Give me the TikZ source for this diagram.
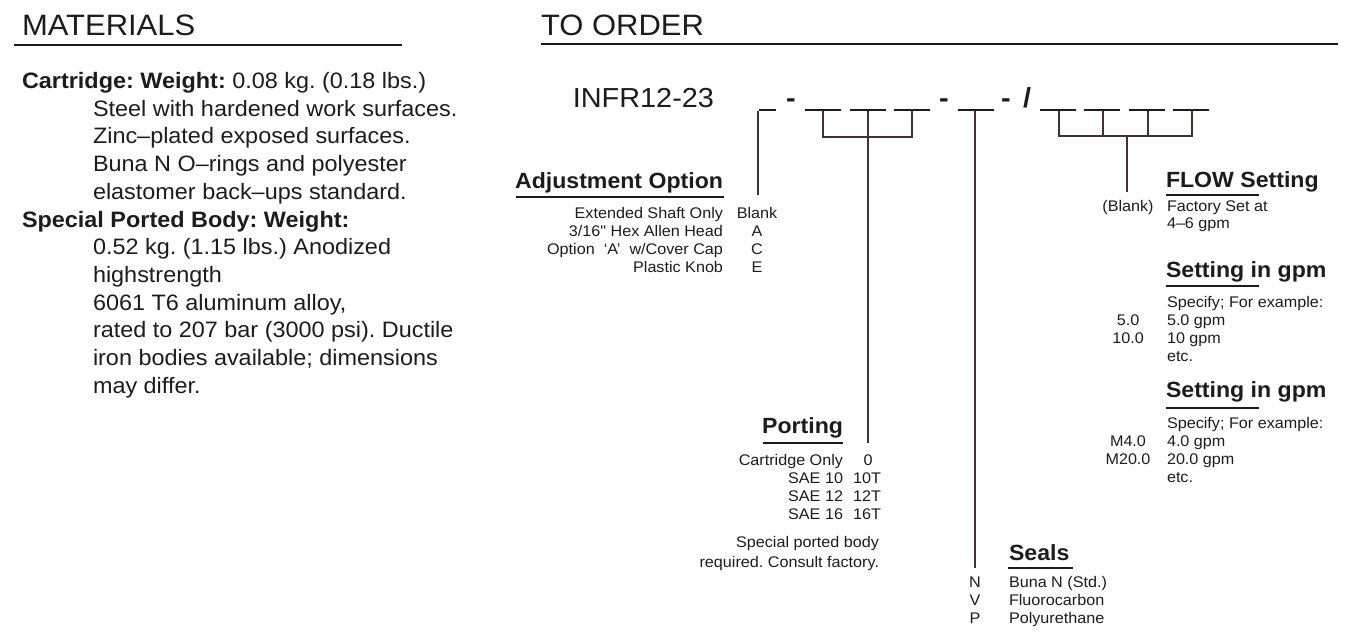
\documentclass[tikz,border=0pt]{standalone}
\usepackage{fontspec}
\setmainfont{Liberation Sans}[FakeStretch=1.05]
\newfontfamily\qfont{Liberation Sans}[FakeStretch=1.05]
\definecolor{ink}{RGB}{30,27,28}
\definecolor{wirec}{RGB}{64,50,48}
\frenchspacing
\begin{document}
\begin{tikzpicture}[x=1pt,y=-1pt,
  every node/.style={inner sep=0pt,outer sep=0pt,text=ink},
  hdr/.style={font=\fontsize{29.5}{30}\selectfont,anchor=base west},
  sub/.style={font=\bfseries\fontsize{22}{24}\selectfont},
  sm/.style={font=\fontsize{15.4}{18}\selectfont},
  mat/.style={font=\fontsize{22.3}{26}\selectfont,anchor=base west},
  code/.style={font=\fontsize{27.5}{28}\selectfont,anchor=base},
  sep/.style={font=\bfseries\fontsize{27.5}{28}\selectfont,anchor=base},
  hrule/.style={draw=ink,line width=1.6pt},
  subrule/.style={draw=ink,line width=2pt},
  blankline/.style={draw=ink,line width=1.5pt},
  wire/.style={draw=wirec,line width=1.2pt}]
\useasboundingbox (0,0) rectangle (1352,640);

% ---------- MATERIALS ----------
\node[hdr] (mathdr) at (22,35) {MATERIALS};
\draw[hrule] (14,45) -- (402,45);
\node[mat] (m0) at (22,88.5) {\textbf{Cartridge: Weight:} 0.08 kg. (0.18 lbs.)};
\node[mat] (m1) at (93,116.2) {Steel with hardened work surfaces.};
\node[mat] (m2) at (93,143.9) {Zinc–plated exposed surfaces.};
\node[mat] (m3) at (93,171.6) {Buna N O–rings and polyester};
\node[mat] (m4) at (93,199.3) {elastomer back–ups standard.};
\node[mat] (m5) at (22,227) {\textbf{Special Ported Body: Weight:}};
\node[mat] (m6) at (93,254.7) {0.52 kg. (1.15 lbs.) Anodized};
\node[mat] (m7) at (93,282.4) {highstrength};
\node[mat] (m8) at (93,310.1) {6061 T6 aluminum alloy,};
\node[mat] (m9) at (93,337.8) {rated to 207 bar (3000 psi). Ductile};
\node[mat] (m10) at (93,365.5) {iron bodies available; dimensions};
\node[mat] (m11) at (93,393.2) {may differ.};

% ---------- TO ORDER ----------
\node[hdr] (ordhdr) at (541,35) {TO ORDER};
\draw[hrule] (541,44) -- (1338,44);

\node[code,anchor=base east] (model) at (714,107) {INFR12-23};
\node[sep] (d1) at (791,107) {-};
\node[sep] (d2) at (944,107) {-};
\node[sep] (d3) at (1006,107) {-};
\node[sep] (sl) at (1027,107) {/};

% blanks
\draw[blankline] (759,110) -- (776,110);
\draw[blankline] (805,110) -- (841,110);
\draw[blankline] (850,110) -- (886,110);
\draw[blankline] (894,110) -- (930,110);
\draw[blankline] (958,110) -- (994,110);
\draw[blankline] (1040,110) -- (1076,110);
\draw[blankline] (1084,110) -- (1120,110);
\draw[blankline] (1129,110) -- (1165,110);
\draw[blankline] (1173,110) -- (1209,110);

% connector coordinates
\coordinate (a0) at (758,111);
\coordinate (aE) at (758,195);
\coordinate (p1) at (823,111);
\coordinate (p2) at (868,111);
\coordinate (p3) at (912,111);
\coordinate (p1b) at (823,137);
\coordinate (p2b) at (868,137);
\coordinate (p3b) at (912,137);
\coordinate (pE) at (868,443);
\coordinate (s0) at (975,111);
\coordinate (sE) at (975,568);
\coordinate (f1) at (1059,111);
\coordinate (f2) at (1103,111);
\coordinate (f3) at (1148,111);
\coordinate (f4) at (1192,111);
\coordinate (f1b) at (1059,136);
\coordinate (f2b) at (1103,136);
\coordinate (f3b) at (1148,136);
\coordinate (f4b) at (1192,136);
\coordinate (fc) at (1127,136);
\coordinate (fE) at (1127,192);

\draw[wire] (a0) -- (aE);
\draw[wire] (p1) -- (p1b) -- (p3b) -- (p3);
\draw[wire] (p2) -- (p2b) -- (pE);
\draw[wire] (s0) -- (sE);
\draw[wire] (f1) -- (f1b) -- (f4b) -- (f4);
\draw[wire] (f2) -- (f2b);
\draw[wire] (f3) -- (f3b);
\draw[wire] (fc) -- (fE);

% ---------- Adjustment Option ----------
\node[sub,anchor=base east] (adjh) at (723,188) {Adjustment Option};
\draw[subrule] (516,197) -- (724,197);
\node[sm,anchor=base east] (adl1) at (723,218) {Extended Shaft Only};
\node[sm,anchor=base east] (adl2) at (723,236) {3/16{\qfont "} Hex Allen Head};
\node[sm,anchor=base east] (adl3) at (723,254) {Option\ \ ‘A’\ \ w/Cover Cap};
\node[sm,anchor=base east] (adl4) at (723,272) {Plastic Knob};
\node[sm,anchor=base] (adc1) at (757,218) {Blank};
\node[sm,anchor=base] (adc2) at (757,236) {A};
\node[sm,anchor=base] (adc3) at (757,254) {C};
\node[sm,anchor=base] (adc4) at (757,272) {E};

% ---------- Porting ----------
\node[sub,anchor=base east] (porth) at (843,433) {Porting};
\draw[subrule] (763,443) -- (843,443);
\node[sm,anchor=base east] (pol1) at (843,465) {Cartridge Only};
\node[sm,anchor=base east] (pol2) at (843,483) {SAE 10};
\node[sm,anchor=base east] (pol3) at (843,501) {SAE 12};
\node[sm,anchor=base east] (pol4) at (843,519) {SAE 16};
\node[sm,anchor=base] (poc1) at (868,465) {0};
\node[sm,anchor=base] (poc2) at (867,483) {10T};
\node[sm,anchor=base] (poc3) at (867,501) {12T};
\node[sm,anchor=base] (poc4) at (867,519) {16T};
\node[sm,anchor=base east] (pon1) at (879,547) {Special ported body};
\node[sm,anchor=base east] (pon2) at (879,567) {required. Consult factory.};

% ---------- Seals ----------
\node[sub,anchor=base west] (sealh) at (1009,560) {Seals};
\draw[subrule] (1008,568) -- (1073,568);
\node[sm,anchor=base] (sc1) at (975,587) {N};
\node[sm,anchor=base] (sc2) at (975,605) {V};
\node[sm,anchor=base] (sc3) at (975,623) {P};
\node[sm,anchor=base west] (sd1) at (1009,587) {Buna N (Std.)};
\node[sm,anchor=base west] (sd2) at (1009,605) {Fluorocarbon};
\node[sm,anchor=base west] (sd3) at (1009,623) {Polyurethane};

% ---------- FLOW Setting ----------
\node[sub,anchor=base west] (flowh) at (1166,187) {FLOW Setting};
\draw[subrule] (1166,195) -- (1259,195);
\node[sm,anchor=base] (fc1) at (1128,211) {(Blank)};
\node[sm,anchor=base west] (fd1) at (1167,211) {Factory Set at};
\node[sm,anchor=base west] (fd2) at (1167,228) {4–6 gpm};

\node[sub,anchor=base west] (set1h) at (1166,277) {Setting in gpm};
\draw[subrule] (1166,286) -- (1259,286);
\node[sm,anchor=base west] (s1a) at (1167,307) {Specify; For example:};
\node[sm,anchor=base] (s1c1) at (1128,325) {5.0};
\node[sm,anchor=base west] (s1b) at (1167,325) {5.0 gpm};
\node[sm,anchor=base] (s1c2) at (1128,343) {10.0};
\node[sm,anchor=base west] (s1c) at (1167,343) {10 gpm};
\node[sm,anchor=base west] (s1d) at (1167,361) {etc.};

\node[sub,anchor=base west] (set2h) at (1166,397) {Setting in gpm};
\draw[subrule] (1166,408) -- (1259,408);
\node[sm,anchor=base west] (s2a) at (1167,428) {Specify; For example:};
\node[sm,anchor=base] (s2c1) at (1128,446) {M4.0};
\node[sm,anchor=base west] (s2b) at (1167,446) {4.0 gpm};
\node[sm,anchor=base] (s2c2) at (1128,464) {M20.0};
\node[sm,anchor=base west] (s2c) at (1167,464) {20.0 gpm};
\node[sm,anchor=base west] (s2d) at (1167,482) {etc.};
\end{tikzpicture}
\end{document}
